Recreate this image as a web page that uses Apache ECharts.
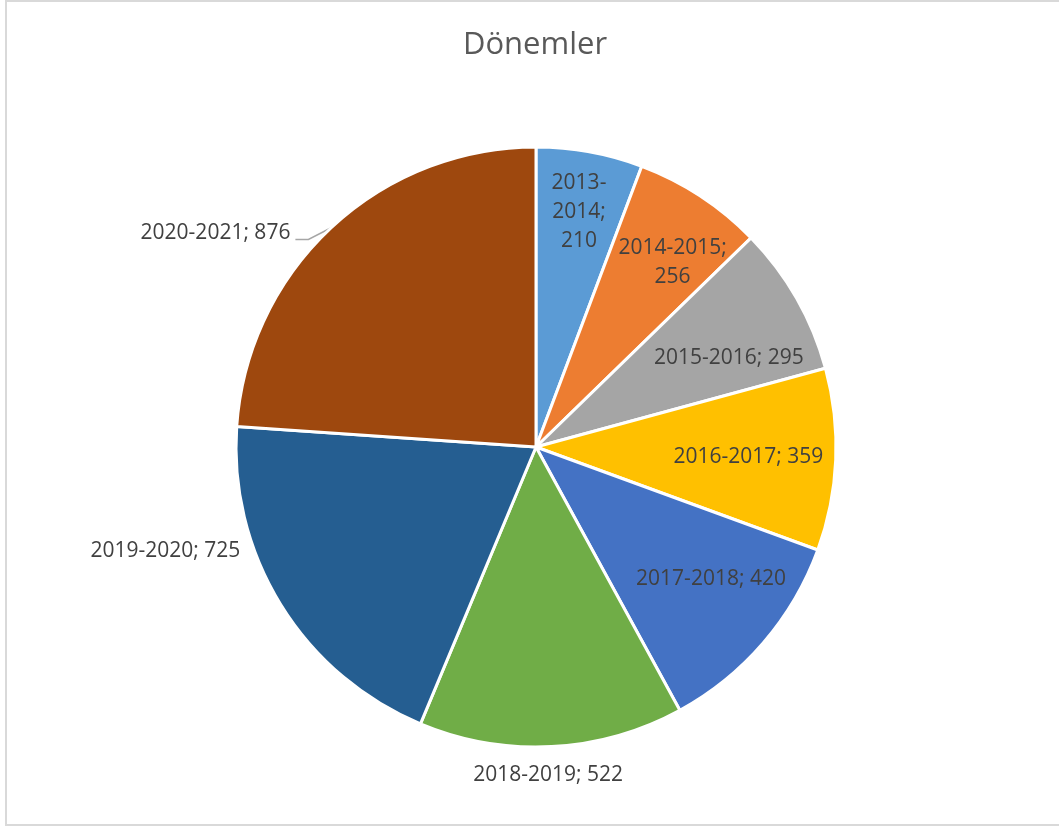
<!DOCTYPE html>
<html>
<head>
<meta charset="utf-8">
<script src="https://cdn.jsdelivr.net/npm/echarts@6/dist/echarts.min.js"></script>
<style>html,body{margin:0;padding:0;background:#fff;}#c{width:1059px;height:828px;}</style>
</head>
<body>
<div id="c"></div>
<script>
const title = 'Dönemler';
const categories = ['2013-2014','2014-2015','2015-2016','2016-2017','2017-2018','2018-2019','2019-2020','2020-2021'];
const values = [210, 256, 295, 359, 420, 522, 725, 876];
const colors = ['#5B9BD5','#ED7D31','#A5A5A5','#FFC000','#4472C4','#70AD47','#255E91','#9E480E'];

// label style settings
const R = 300, CX = 536, CY = 447;
const inside = [true, true, true, true, true, false, false, false];
const insideFrac = [0.80, 0.77, 0.69, 0.735, 0.73];
const insideNudge = [[0, 1], [10, 9], [13, 14], [-8, 1], [9, -11]];
const outsideShift = {5: [-99, 18], 6: [-12, -59], 7: [-14, 13]};

const total = values.reduce((a, b) => a + b, 0);
const mids = [];
let acc = 0;
values.forEach(v => { mids.push((acc + v / 2) / total * Math.PI * 2); acc += v; });

function labelText(i) {
  const n = categories[i], v = values[i];
  if (i === 0) { const p = n.split('-'); return p[0] + '-\n' + p[1] + ';\n' + v; }
  if (i === 1) return n + ';\n' + v;
  return n + '; ' + v;
}

const data = categories.map((n, i) => ({
  name: n,
  value: values[i],
  itemStyle: { color: colors[i] },
  label: { position: inside[i] ? 'inside' : 'outside' },
  labelLine: { show: i === 7, length: 10, length2: 15, lineStyle: { color: '#A6A6A6', width: 1.5 } }
}));

const chart = echarts.init(document.getElementById('c'), null, { renderer: 'canvas' });
chart.setOption({
  animation: false,
  backgroundColor: '#fff',
  graphic: [
    { type: 'rect', shape: { x: 6, y: 1, width: 1100, height: 824 }, style: { fill: 'none', stroke: '#D9D9D9', lineWidth: 2 }, silent: true },
    { type: 'text', x: 535, y: 45, style: { text: title, fontFamily: 'Open Sans', fontSize: 31, fill: '#595959', textAlign: 'center', textVerticalAlign: 'middle' }, silent: true }
  ],
  series: [{
    type: 'pie',
    center: [CX, CY],
    radius: [0, R],
    startAngle: 90,
    clockwise: true,
    avoidLabelOverlap: false,
    itemStyle: { borderColor: '#fff', borderWidth: 3 },
    label: {
      show: true,
      formatter: p => labelText(p.dataIndex),
      fontFamily: 'Open Sans',
      fontSize: 21,
      lineHeight: 29,
      color: '#404040',
      align: 'center'
    },
    labelLine: { length: 10, length2: 15 },
    labelLayout: function (params) {
      const i = params.dataIndex;
      if (inside[i]) {
        const d = insideFrac[i] * R - (R / 2 + 3);
        return {
          dx: d * Math.sin(mids[i]) + insideNudge[i][0],
          dy: -d * Math.cos(mids[i]) + insideNudge[i][1]
        };
      }
      const s = outsideShift[i];
      const out = { dx: s[0], dy: s[1] };
      if (i === 7) {
        const r = params.labelRect;
        const ex = CX + R * Math.sin(mids[i]);
        const ey = CY - R * Math.cos(mids[i]);
        const lx = r.x + r.width + s[0] + 5;
        const ly = r.y + r.height / 2 + s[1] + 6;
        out.labelLinePoints = [[ex, ey], [lx + 13, ly], [lx, ly]];
      }
      return out;
    },
    emphasis: { disabled: true },
    data: data
  }]
});
</script>
</body>
</html>
